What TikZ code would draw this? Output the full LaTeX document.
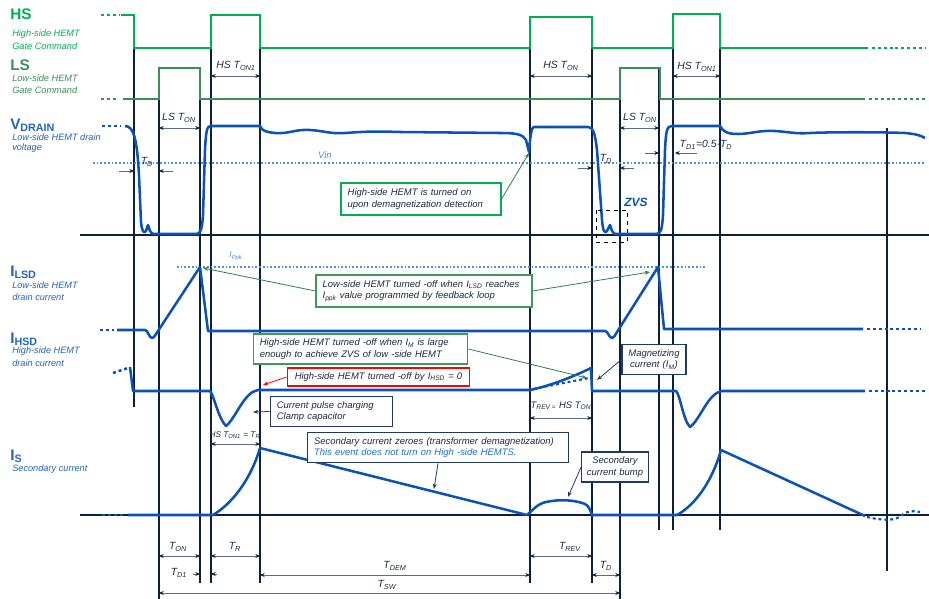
\documentclass[tikz,border=0pt]{standalone}
\usepackage{fontspec}
\setmainfont{Liberation Sans}
\usetikzlibrary{arrows.meta}
\definecolor{hsg}{HTML}{00B050}
\definecolor{lsg}{HTML}{3A8F55}
\definecolor{grn}{HTML}{3E9A5C}
\definecolor{garr}{HTML}{2E8048}
\definecolor{wblue}{HTML}{0A52B6}
\definecolor{tblue}{HTML}{2563C0}
\definecolor{lblue}{HTML}{4A8FE0}
\definecolor{navy}{HTML}{0D1F3F}
\definecolor{bnavy}{HTML}{1F3864}
\definecolor{ttext}{HTML}{1F2A44}
\definecolor{dimc}{HTML}{5A6C88}
\definecolor{evblue}{HTML}{1F6FD0}
\newcommand{\mysb}[1]{\textsubscript{#1}}
\begin{document}
\begin{tikzpicture}[x=0.75pt,y=-0.75pt,
  font=\itshape\fontsize{7.1}{8.6}\selectfont,
  hsw/.style={draw=hsg,line width=1.9pt},
  lsw/.style={draw=lsg,line width=1.9pt},
  wv/.style={draw=wblue,line width=1.9pt,line join=round},
  dotw/.style={dash pattern=on 2.2pt off 2.2pt},
  vln/.style={draw=navy,line width=1.05pt},
  ref/.style={draw=lblue,line width=1pt,dash pattern=on 1.3pt off 1.5pt},
  dimx/.style={draw=dimc,line width=0.6pt,{Stealth[length=3.5pt,width=3pt,color=navy]}-{Stealth[length=3.5pt,width=3pt,color=navy]}},
  dimr/.style={draw=dimc,line width=0.6pt,-{Stealth[length=3.5pt,width=3pt,color=navy]}},
  tl/.style={text=ttext,font=\itshape\fontsize{7.8}{9}\selectfont,inner sep=1pt},
  big/.style={anchor=west,font=\bfseries\fontsize{11.5}{12}\selectfont,inner sep=0pt},
  desc/.style={anchor=west,inner sep=0pt,font=\itshape\fontsize{6.9}{8.4}\selectfont},
  abox/.style={draw,line width=0.8pt,fill=white,text=ttext,inner xsep=5pt,inner ysep=2pt,minimum height=#1},
  abox/.default=23pt,
  aarr/.style={line width=0.6pt,-{Stealth[length=4pt,width=3pt]}}
]
\useasboundingbox (0,0) rectangle (929,599);

% ---------- left labels ----------
\node[big,text=hsg] (hsT) at (10,14) {HS};
\node[desc,text=hsg] (hsD1) at (12,34) {High-side HEMT};
\node[desc,text=hsg] (hsD2) at (12,46) {Gate Command};
\node[big,text=lsg] (lsT) at (10,65) {LS};
\node[desc,text=lsg] (lsD1) at (12,78) {Low-side HEMT};
\node[desc,text=lsg] (lsD2) at (12,90) {Gate Command};
\node[big,text=tblue] (vdT) at (10,125) {V\mysb{DRAIN}};
\node[desc,text=tblue] (vdD1) at (12,137) {Low-side HEMT drain};
\node[desc,text=tblue] (vdD2) at (12,148) {voltage};
\node[big,text=tblue] (ilT) at (10,272) {I\mysb{LSD}};
\node[desc,text=tblue] (ilD1) at (12,285) {Low-side HEMT};
\node[desc,text=tblue] (ilD2) at (12,297) {drain current};
\node[big,text=tblue] (ihT) at (10,339) {I\mysb{HSD}};
\node[desc,text=tblue] (ihD1) at (12,351) {High-side HEMT};
\node[desc,text=tblue] (ihD2) at (12,363) {drain current};
\node[big,text=tblue] (isT) at (10,456) {I\mysb{S}};
\node[desc,text=tblue] (isD1) at (12,469) {Secondary current};

% ---------- axes and vertical markers ----------
\draw[vln] (80,235) -- (929,235);
\draw[vln] (80,515) -- (929,515);
\draw[vln] (134,48) -- (134,407);
\draw[vln] (159,68) -- (159,599);
\draw[vln] (200,68) -- (200,583);
\draw[vln] (211,15) -- (211,583);
\draw[vln] (260,15) -- (260,583);
\draw[vln] (530,17) -- (530,583);
\draw[vln] (592,17) -- (592,583);
\draw[vln] (620,68) -- (620,599);
\draw[vln] (659,68) -- (659,530);
\draw[vln] (673,14) -- (673,530);
\draw[vln] (720,14) -- (720,530);
\draw[vln] (887,128) -- (887,571);

% reference levels
\draw[ref] (93,163) -- (925,163);
\draw[ref] (177,267) -- (705,267);
\node[text=lblue,inner sep=0pt] (vin) at (325,155) {Vin};
\node[text=lblue,inner sep=0pt,font=\itshape\fontsize{6.3}{7}\selectfont] (ippk) at (236,256) {I\mysb{Ppk}};

% ---------- HS gate ----------
\draw[hsw,dotw] (101,15) -- (119,15);
\draw[hsw] (121,15) -- (134,15) -- (134,48) -- (211,48) -- (211,15) -- (260,15) -- (260,48) -- (530,48) -- (530,17) -- (592,17) -- (592,48) -- (673,48) -- (673,14) -- (720,14) -- (720,48) -- (868,48);
\draw[hsw,dotw] (872,48) -- (925,48);

% ---------- LS gate ----------
\draw[lsw,dotw] (101,99) -- (117,99);
\draw[lsw] (123,99) -- (159,99) -- (159,68) -- (200,68) -- (200,99) -- (620,99) -- (620,68) -- (660,68) -- (660,99) -- (865,99);
\draw[lsw,dotw] (869,99) -- (925,99);

% ---------- VDRAIN ----------
\draw[wv,dotw] (102,126) -- (120,126);
\draw[wv] (125,126) .. controls (134,126) and (137,140) .. (139,175) -- (141,222)
  .. controls (142,232) and (144,234) .. (146,231) -- (148,225) -- (150,231)
  .. controls (151,234) and (153,234) .. (156,234) -- (196,234)
  .. controls (200,234) and (202,231) .. (203,215) -- (205,150)
  .. controls (206,130) and (207,126) .. (211,126) -- (260,126)
  .. controls (262,131) and (266,132) .. (275,133)
  .. controls (290,134) and (295,129) .. (310,130)
  .. controls (325,131) and (330,134) .. (345,133)
  .. controls (360,132) and (370,131) .. (400,132) -- (500,133)
  .. controls (515,133) and (523,134) .. (526,140) -- (529,152)
  .. controls (530,140) and (531,127) .. (534,127) -- (588,127)
  .. controls (593,127) and (595,133) .. (597,150) -- (602,220)
  .. controls (603,232) and (605,234) .. (607,231) -- (610,225) -- (612,231)
  .. controls (613,234) and (615,234) .. (618,234) -- (656,234)
  .. controls (661,234) and (662,230) .. (663,215) -- (665,150)
  .. controls (666,130) and (667,126) .. (672,126) -- (720,126)
  .. controls (723,132) and (728,134) .. (738,134)
  .. controls (750,134) and (760,130) .. (775,131)
  .. controls (790,132) and (795,134) .. (810,133)
  .. controls (830,132) and (880,132) .. (905,133)
  .. controls (915,134) and (920,135) .. (925,138);

% ---------- ILSD ----------
\draw[wv,dotw] (100,330) -- (114,330);
\draw[wv] (117,330) -- (145,330) .. controls (148,330) and (149,338) .. (152,338)
  .. controls (154,338) and (156,334) .. (158,331) -- (200,267) -- (208,331) -- (605,331)
  .. controls (608,331) and (609,338) .. (612,338)
  .. controls (614,338) and (615,335) .. (617,332) -- (658,267) -- (664,329) -- (863,329);
\draw[wv,dotw] (867,329) -- (920,329);

% ---------- IHSD ----------
\draw[wv,dotw] (113,373) -- (128,368);
\draw[wv] (130,367) -- (133,391) -- (210,391)
  .. controls (214,395) and (218,418) .. (226,426)
  .. controls (236,418) and (244,392) .. (258,390) -- (530,390)
  .. controls (550,386) and (575,376) .. (591,368) -- (592,391) -- (676,391)
  .. controls (680,394) and (683,420) .. (690,427)
  .. controls (700,420) and (708,393) .. (722,391) -- (865,391);
\draw[wv,dotw] (869,391) -- (925,391);
\draw[wv,dotw,line width=1.6pt] (533,389) -- (589,378);

% ---------- IS ----------
\draw[wv,dotw] (102,515) -- (124,515);
\draw[wv] (128,515) -- (213,515) .. controls (230,505) and (250,482) .. (260,448) -- (527,515)
  .. controls (533,510) and (537,504) .. (546,502)
  .. controls (560,499) and (575,500) .. (585,504)
  .. controls (589,506) and (590,510) .. (592,515) -- (677,515)
  .. controls (695,505) and (712,482) .. (721,450) -- (865,516);
\draw[wv,dotw,line width=1.6pt] (867,517) .. controls (880,520) and (895,522) .. (902,515) .. controls (908,510) and (915,511) .. (920,512);

% ---------- top timing ----------
\draw[dimx] (159,128) -- (200,128);
\node[tl] (lst1) at (179,118) {LS T\mysb{ON}};
\draw[dimx] (211,76) -- (260,76);
\node[tl] (hst1) at (236,66) {HS T\mysb{ON1}};
\draw[dimx] (530,76) -- (592,76);
\node[tl] (hst2) at (561,66) {HS T\mysb{ON}};
\draw[dimx] (620,128) -- (659,128);
\node[tl] (lst2) at (640,118) {LS T\mysb{ON}};
\draw[dimx] (673,76) -- (720,76);
\node[tl] (hst3) at (697,67) {HS T\mysb{ON1}};
\draw[dimr] (119,171) -- (134,171);
\draw[dimr] (173,171) -- (159,171);
\node[tl] (td1) at (147,162) {T\mysb{D}};
\draw[dimr] (578,168) -- (592,168);
\draw[dimr] (634,168) -- (620,168);
\node[tl] (td2) at (606,159) {T\mysb{D}};
\draw[dimr] (645,153) -- (659,153);
\draw[dimr] (697,153) -- (675,153);
\node[tl] (td1b) at (706,145) {T\mysb{D1}=0.5·T\mysb{D}};

% ZVS
\draw[dashed,line width=0.6pt] (596,210) rectangle (627,242);
\node[text=wblue,inner sep=0pt,font=\bfseries\itshape\fontsize{9}{10}\selectfont] (zvs) at (636,202) {ZVS};

% ---------- lower timing ----------
\draw[dimx] (211,444) -- (260,444);
\node[tl,font=\itshape\fontsize{6.2}{7}\selectfont] (hsr) at (235,435) {HS T\mysb{ON1} = T\mysb{R}};
\draw[dimx] (530,418) -- (592,418);
\node[tl,font=\itshape\fontsize{7.1}{8}\selectfont] (trev1) at (561,406) {T\mysb{REV =} HS T\mysb{ON}};
\draw[dimx] (159,556) -- (200,556);
\node[tl] (ton) at (178,547) {T\mysb{ON}};
\draw[dimx] (211,556) -- (260,556);
\node[tl] (tr) at (235,547) {T\mysb{R}};
\draw[dimr] (193,574) -- (200,574);
\draw[dimr] (217,574) -- (211,574);
\node[tl] (tdb) at (179,573) {T\mysb{D1}};
\draw[dimx] (260,575) -- (530,575);
\node[tl] (tdem) at (395,566) {T\mysb{DEM}};
\draw[dimx] (530,556) -- (592,556);
\node[tl] (trev) at (570,547) {T\mysb{REV}};
\draw[dimx] (592,575) -- (620,575);
\node[tl] (tdc) at (606,566) {T\mysb{D}};
\draw[dimx] (159,593) -- (620,593);
\node[tl] (tsw) at (387,585) {T\mysb{SW}};

% ---------- annotation boxes ----------
\node[abox=24pt,draw=hsg,text width=110pt,align=left] (b1) at (421,199) {High-side HEMT is turned on\\upon demagnetization detection};
\draw[aarr,draw=garr] (b1.east) -- (529,153);

\node[abox=24pt,draw=grn,text width=152pt,align=left] (b2) at (424,291) {Low-side HEMT turned -off when I\mysb{LSD} reaches\\I\mysb{ppk} value programmed by feedback loop};
\draw[aarr,draw=garr] (b2.west) -- (203,268);
\draw[aarr,draw=garr] (b2.east) -- (650,272);

\node[abox=22.5pt,draw=grn,text width=151pt,align=left] (b3) at (360.5,349) {High-side HEMT turned -off when I\mysb{M} is large\\enough to achieve ZVS of low -side HEMT};
\draw[aarr,draw=garr] (b3.east) -- (587,378);

\node[abox=13.5pt,draw=red,text width=127pt,align=center] (b4) at (378.5,377) {High-side HEMT turned -off by I\mysb{HSD} = 0};
\draw[aarr,draw=red] (b4.west) -- (263,385);

\node[abox=23pt,draw=bnavy,text width=44pt,inner xsep=2pt,align=center] (b5) at (654,359.5) {Magnetizing\\current (I\mysb{M})};
\draw[aarr,draw=bnavy] (b5.west) -- (597,380);

\node[abox=23pt,draw=bnavy,text width=82pt,align=left] (b6) at (331.5,411.5) {Current pulse charging\\Clamp capacitor};
\draw[aarr,draw=bnavy] (b6.west) -- (253,412);

\node[abox=23pt,draw=bnavy,text width=186pt,align=left] (b7) at (438,447.5) {Secondary current zeroes (transformer demagnetization)\\\textcolor{evblue}{This event does not turn on High -side HEMTS.}};
\draw[aarr,draw=bnavy] (b7.south) -- (434,489);

\node[abox=22.5pt,draw=bnavy,text width=46pt,inner xsep=2pt,align=center] (b8) at (615,467) {Secondary\\current bump};
\draw[aarr,draw=bnavy] (b8.west) -- (568,497);
\end{tikzpicture}
\end{document}
